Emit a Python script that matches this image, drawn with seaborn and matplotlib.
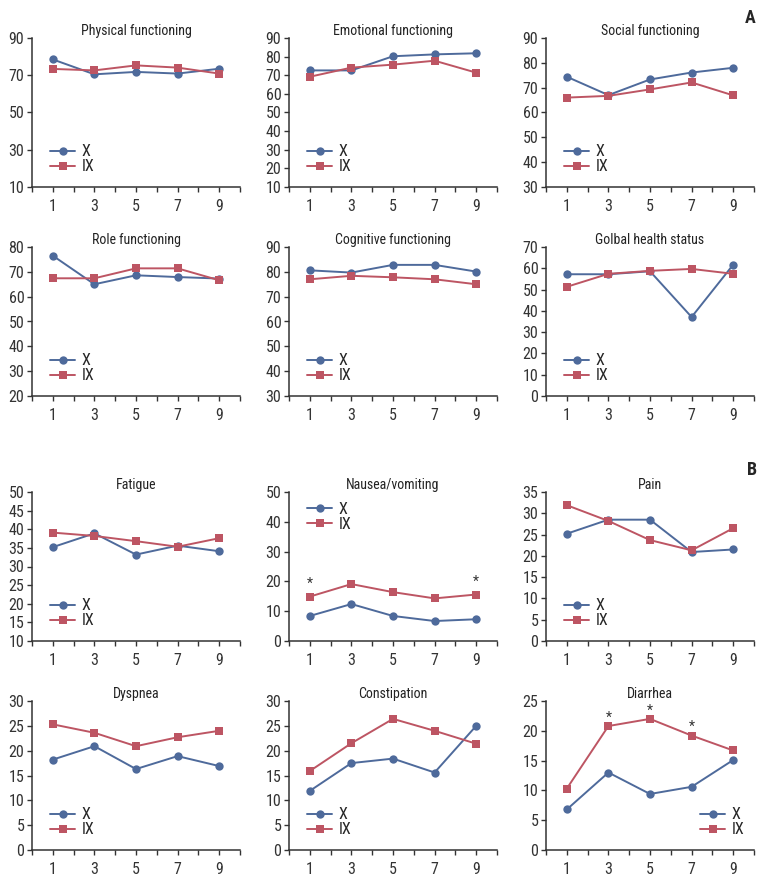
import matplotlib
matplotlib.use("Agg")
import matplotlib.pyplot as plt
from matplotlib import font_manager
import seaborn as sns
import numpy as np

visits = [1, 3, 5, 7, 9]

titles = ["Physical functioning", "Emotional functioning", "Social functioning",
          "Role functioning", "Cognitive functioning", "Golbal health status",
          "Fatigue", "Nausea/vomiting", "Pain",
          "Dyspnea", "Constipation", "Diarrhea"]

x_vals = [
    [78.5, 70.5, 71.8, 70.9, 73.5],
    [72.6, 72.6, 80.2, 81.2, 81.8],
    [74.4, 67.0, 73.3, 76.1, 78.0],
    [76.5, 65.0, 68.6, 67.9, 67.3],
    [80.6, 79.7, 82.8, 82.8, 80.1],
    [57.2, 57.2, 58.6, 37.1, 61.7],
    [35.2, 38.9, 33.2, 35.6, 34.1],
    [8.4, 12.4, 8.4, 6.7, 7.3],
    [25.2, 28.5, 28.5, 20.9, 21.5],
    [18.2, 20.9, 16.3, 18.9, 16.9],
    [11.9, 17.5, 18.4, 15.6, 25.0],
    [6.8, 13.0, 9.4, 10.6, 15.1],
]
ix_vals = [
    [73.4, 72.6, 75.3, 74.1, 70.9],
    [69.2, 74.1, 75.7, 77.8, 71.4],
    [66.0, 66.7, 69.3, 72.1, 66.9],
    [67.4, 67.4, 71.4, 71.4, 66.6],
    [77.0, 78.4, 77.8, 77.0, 75.0],
    [51.3, 57.4, 58.8, 59.7, 57.4],
    [39.1, 38.2, 36.8, 35.3, 37.6],
    [14.9, 19.1, 16.4, 14.3, 15.6],
    [31.9, 28.2, 23.7, 21.3, 26.5],
    [25.3, 23.6, 20.9, 22.7, 24.0],
    [15.9, 21.5, 26.4, 24.0, 21.4],
    [10.3, 20.8, 22.0, 19.2, 16.7],
]
y_ranges = [(10, 90, 20), (10, 90, 10), (30, 90, 10),
            (20, 80, 10), (30, 90, 10), (0, 70, 10),
            (10, 50, 5), (0, 50, 10), (0, 35, 5),
            (0, 30, 5), (0, 30, 5), (0, 25, 5)]
legend_pos = ["ll"] * 7 + ["ul"] + ["ll"] * 3 + ["lr"]
# significant visits (asterisks above IX)
stars = {7: [1, 9], 11: [3, 5, 7]}

blue = "#4e6a9b"
red = "#bd5563"

sns.set_style("ticks")

# pick a narrow font if one is installed
family = "DejaVu Sans"
for cand in ["Liberation Sans Narrow", "Arial Narrow", "Roboto Condensed"]:
    try:
        font_manager.findfont(font_manager.FontProperties(family=cand), fallback_to_default=False)
        family = cand
        break
    except Exception:
        pass
plt.rcParams["font.family"] = [family, "DejaVu Sans"]
plt.rcParams["font.stretch"] = "condensed"

fig = plt.figure(figsize=(7.73, 8.88), dpi=100)
lefts = [32, 289, 546]
tops = [38, 247, 492, 701]
W, H = 773, 888

for i, title in enumerate(titles):
    r, c = divmod(i, 3)
    ax = fig.add_axes([lefts[c] / W, 1 - (tops[r] + 149) / H, 208 / W, 149 / H])
    sns.lineplot(x=visits, y=x_vals[i], ax=ax, color=blue, marker="o", markersize=6,
                 markeredgewidth=0, linewidth=1.4, label="X")
    sns.lineplot(x=visits, y=ix_vals[i], ax=ax, color=red, marker="s", markersize=5.5,
                 markeredgewidth=0, linewidth=1.4, label="IX")
    lo, hi, step = y_ranges[i]
    ax.set_ylim(lo, hi)
    ax.set_yticks(np.arange(lo, hi + 0.1, step))
    ax.set_xlim(0, 10)
    ax.set_xticks(visits)
    ax.set_xticks(range(0, 11), minor=True)
    ax.tick_params(axis="both", which="both", length=3.5, width=1, labelsize=11.5,
                   labelcolor="#333333", color="#333333", pad=2)
    ax.tick_params(axis="x", pad=5)
    for s in ["left", "bottom"]:
        ax.spines[s].set_linewidth(1.1)
        ax.spines[s].set_color("#333333")
    sns.despine(ax=ax)
    ax.set_title(title, fontsize=10, pad=1, color="#222222")
    off = 9 if i == 7 else 6
    for v in stars.get(i, []):
        ax.annotate("*", (v, ix_vals[i][visits.index(v)]), xytext=(0, off),
                    textcoords="offset points", ha="center", va="center",
                    fontsize=10, color="#333333")
    pos = legend_pos[i]
    if pos == "ll":
        loc, anchor = "lower left", (0.04, 0.02)
    elif pos == "ul":
        loc, anchor = "upper left", (0.04, 1.0)
    else:
        loc, anchor = "lower right", (1.0, 0.02)
    ax.legend(loc=loc, bbox_to_anchor=anchor, frameon=False, fontsize=11.5,
              handlelength=1.6, handletextpad=0.4, labelspacing=0.0, borderaxespad=0.2)

fig.text(750 / W, 1 - 18 / H, "A", fontsize=13, fontweight="bold", ha="center", va="center")
fig.text(752 / W, 1 - 470 / H, "B", fontsize=13, fontweight="bold", ha="center", va="center")

fig.savefig("out.png", dpi=100)
